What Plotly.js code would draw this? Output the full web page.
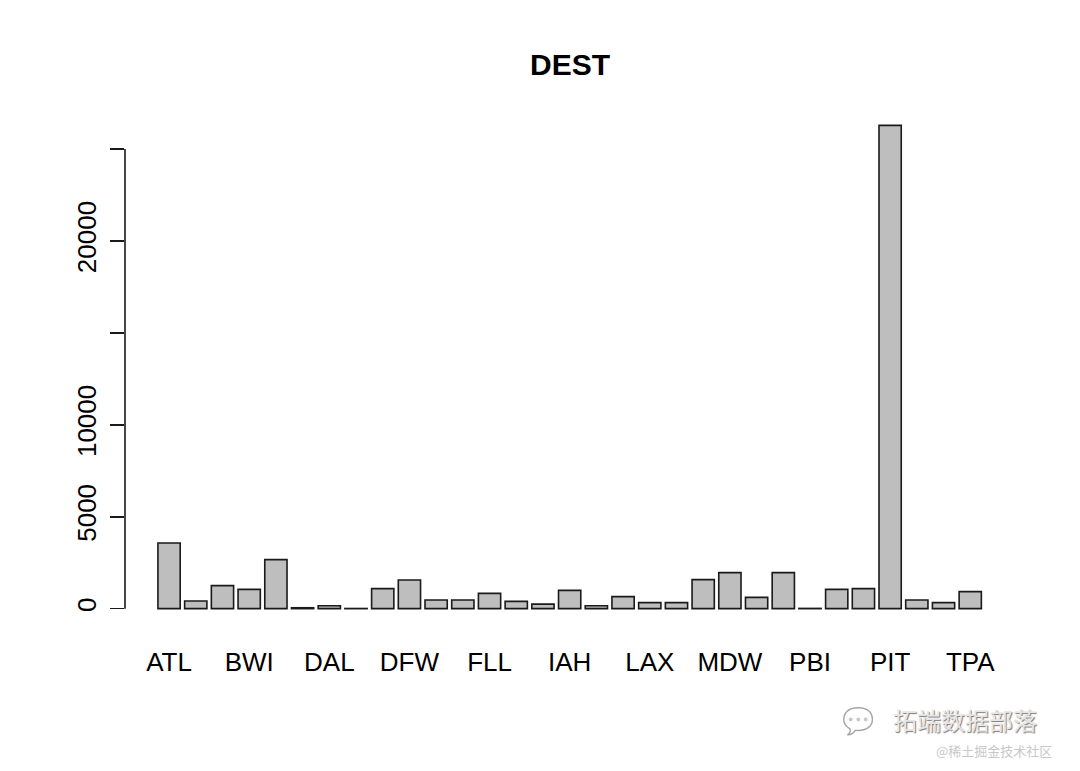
<!DOCTYPE html>
<html>
<head>
<meta charset="utf-8">
<script src="https://cdn.plot.ly/plotly-3.0.1.min.js"></script>
<style>
  html, body { margin: 0; padding: 0; background: #fff; }
  #chart { width: 1080px; height: 771px; }
</style>
</head>
<body>
<div id="chart"></div>
<script>
// Destination airports (alphabetical, as in R's table())
const categories = [
  "ATL","BNA","BOS","BWI","CLE","CLT","DAL","DCA","DEN","DFW","DTW","EWR",
  "FLL","HOU","IAD","IAH","IND","LAS","LAX","LGA","MCO","MDW","MSP","ORD",
  "PBI","PHL","PHX","PIT","RDU","STL","TPA"
];
// Flight counts per destination
const counts = [
  3570, 414, 1253, 1051, 2669, 50, 163, 10, 1090, 1558, 468, 468,
  833, 398, 250, 997, 163, 654, 327, 327, 1580, 1961, 615, 1961,
  15, 1051, 1090, 26285, 468, 327, 926
];
// Y axis ticks (R drops labels that would overlap)
const yTickVals = [0, 5000, 10000, 15000, 20000, 25000];
const yTickText = ["0", "5000", "10000", "", "20000", ""];
// Every third category gets a visible label
const xTickVals = categories.filter((c, i) => i % 3 === 0);
const chartTitle = "DEST";

const FONT = "Liberation Sans, Arial, Helvetica, sans-serif";
const PW = 1080 - 125 - 93.5, PH = 771 - 106.4 - 143.4;

const trace = {
  type: "bar",
  x: categories,
  y: counts,
  marker: { color: "#bebebe", line: { color: "#1a1a1a", width: 1.6 } },
  hoverinfo: "x+y"
};

const layout = {
  width: 1080,
  height: 771,
  paper_bgcolor: "#ffffff",
  plot_bgcolor: "#ffffff",
  margin: { l: 125, r: 93.5, t: 106.4, b: 143.4, pad: 0 },
  showlegend: false,
  bargap: 0.1667,
  font: { family: FONT, size: 26, color: "#000" },
  title: {
    text: "<b>" + chartTitle + "</b>",
    font: { family: FONT, size: 30, color: "#000" },
    x: 570 / 1080, xref: "container", xanchor: "center",
    y: 1 - 64 / 771, yref: "container", yanchor: "middle"
  },
  xaxis: {
    type: "category",
    range: [-1.65, 30.59],
    showgrid: false, zeroline: false, showline: false,
    ticks: "",
    tickmode: "array",
    tickvals: xTickVals,
    ticktext: xTickVals,
    tickangle: 0,
    ticklabelstandoff: 16,
    tickfont: { family: FONT, size: 26, color: "#000" },
    fixedrange: true
  },
  yaxis: {
    range: [-1051, 27336],
    showgrid: false, zeroline: false, showline: false,
    ticks: "outside", ticklen: 14, tickwidth: 1.6, tickcolor: "#1a1a1a",
    tickmode: "array",
    tickvals: yTickVals,
    ticktext: yTickText,
    tickangle: -90,
    ticklabelstandoff: 4,
    tickfont: { family: FONT, size: 26, color: "#000" },
    fixedrange: true
  },
  shapes: [
    { type: "line", xref: "paper", yref: "y", x0: 0, x1: 0,
      y0: yTickVals[0], y1: yTickVals[yTickVals.length - 1],
      line: { color: "#1a1a1a", width: 1.6 } }
  ],
  annotations: [
    { text: "拓端数据部落", xref: "paper", yref: "paper",
      x: (965 - 125) / PW, y: (771 - 143.4 - 719) / PH,
      xanchor: "center", yanchor: "middle", showarrow: false,
      font: { family: "Noto Sans CJK SC, sans-serif", size: 24, color: "#e6e6e6",
              shadow: "1px 1px 1px #7a7a7a" } },
    { text: "@稀土掘金技术社区", xref: "paper", yref: "paper",
      x: (995 - 125) / PW, y: (771 - 143.4 - 750) / PH,
      xanchor: "center", yanchor: "middle", showarrow: false,
      font: { family: "Noto Sans CJK SC, sans-serif", size: 13, color: "#c8c8c8" } },
    { text: "💬", xref: "paper", yref: "paper",
      x: (858 - 125) / PW, y: (771 - 143.4 - 720) / PH,
      xanchor: "center", yanchor: "middle", showarrow: false,
      font: { size: 26, color: "#dddddd" }, opacity: 0.35 }
  ]
};

Plotly.newPlot("chart", [trace], layout, { displayModeBar: false, staticPlot: true });
</script>
</body>
</html>
